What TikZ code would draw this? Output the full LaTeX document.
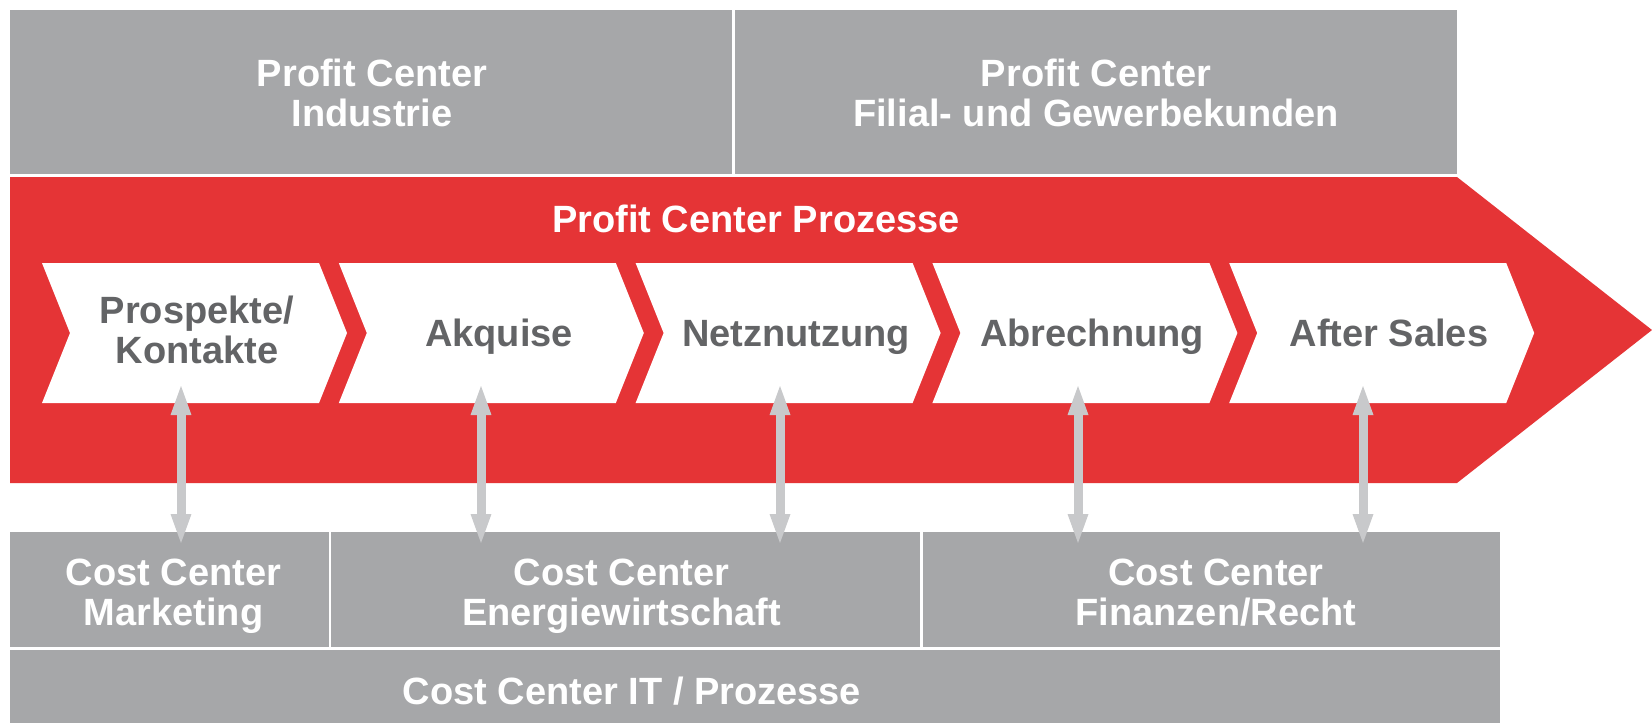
\documentclass[tikz,border=0pt]{standalone}
\usepackage{fontspec}
\setmainfont{Liberation Sans}
\usetikzlibrary{arrows.meta}
\definecolor{boxgray}{RGB}{166,167,169}
\definecolor{bandred}{RGB}{229,52,54}
\definecolor{txtgray}{RGB}{99,100,102}
\definecolor{arrgray}{RGB}{200,201,203}
\newcommand\lnx[1]{\smash{#1}\rule{0pt}{27.2pt}}
\begin{document}
\begin{tikzpicture}[x=1pt,y=-1pt,
  lbl/.style={font=\fontsize{38}{40.5}\selectfont\bfseries, align=center, inner sep=0pt},
  graybox/.style={fill=boxgray, draw=none, inner sep=0pt},
  boxtext/.style={lbl, text=white},
  chevtext/.style={lbl, text=txtgray},
  bandtext/.style={lbl, text=white},
  chev/.style={fill=white, draw=none},
  dbl/.style={draw=arrgray, line width=9pt,
    {Triangle[width=18pt,length=32pt]}-{Triangle[width=18pt,length=32pt]}}
]
\useasboundingbox (0,0) rectangle (1652,723);
\fill[white] (0,0) rectangle (1652,723);

% top profit centers
\node[graybox, minimum width=722pt, minimum height=164pt] (pci) at (371,92) {};
\node[boxtext] (pcit) at (372,93) {\lnx{Profit Center}\\\lnx{Industrie}};
\node[graybox, minimum width=722pt, minimum height=164pt] (pcf) at (1096,92) {};
\node[boxtext] (pcft) at (1096,93) {\lnx{Profit Center}\\\lnx{Filial- und Gewerbekunden}};

% red process band
\fill[bandred] (10,177) -- (1457,177) -- (1652,330) -- (1457,483) -- (10,483) -- cycle;
\node[bandtext] (pcp) at (756,219) {\lnx{Profit Center Prozesse}};

% chevrons
\foreach \L in {42,338.8,635.6,932.4,1229.2}{
  \fill[chev] (\L,263) -- ({\L+277},263) -- ({\L+305},333) -- ({\L+277},403)
    -- (\L,403) -- ({\L+28},333) -- cycle;
}
\node[chevtext] (c1) at (197,330) {\lnx{Prospekte/}\\\lnx{Kontakte}};
\node[chevtext] (c2) at (499,333) {\lnx{Akquise}};
\node[chevtext] (c3) at (796,333) {\lnx{Netznutzung}};
\node[chevtext] (c4) at (1092,333) {\lnx{Abrechnung}};
\node[chevtext] (c5) at (1389,333) {\lnx{After Sales}};

% cost centers
\node[graybox, minimum width=319pt, minimum height=115pt] (ccm) at (169.5,589.5) {};
\node[boxtext] (ccmt) at (173.5,592) {\lnx{Cost Center}\\\lnx{Marketing}};
\node[graybox, minimum width=589pt, minimum height=115pt] (cce) at (625.5,589.5) {};
\node[boxtext] (ccet) at (621.5,592) {\lnx{Cost Center}\\\lnx{Energiewirtschaft}};
\node[graybox, minimum width=577pt, minimum height=115pt] (ccf) at (1211.5,589.5) {};
\node[boxtext] (ccft) at (1216,592) {\lnx{Cost Center}\\\lnx{Finanzen/Recht}};
\node[graybox, minimum width=1490pt, minimum height=73pt] (cci) at (755,686.5) {};
\node[boxtext] (ccit) at (632,691) {\lnx{Cost Center IT / Prozesse}};

% arrow end points
\coordinate (t1) at (181,383);  \coordinate (b1) at (181,546);
\coordinate (t2) at (481,383);  \coordinate (b2) at (481,546);
\coordinate (t3) at (780,383);  \coordinate (b3) at (780,546);
\coordinate (t4) at (1078,383); \coordinate (b4) at (1078,546);
\coordinate (t5) at (1363,383); \coordinate (b5) at (1363,546);
\draw[dbl] (t1) -- (b1);
\draw[dbl] (t2) -- (b2);
\draw[dbl] (t3) -- (b3);
\draw[dbl] (t4) -- (b4);
\draw[dbl] (t5) -- (b5);
\end{tikzpicture}
\end{document}
